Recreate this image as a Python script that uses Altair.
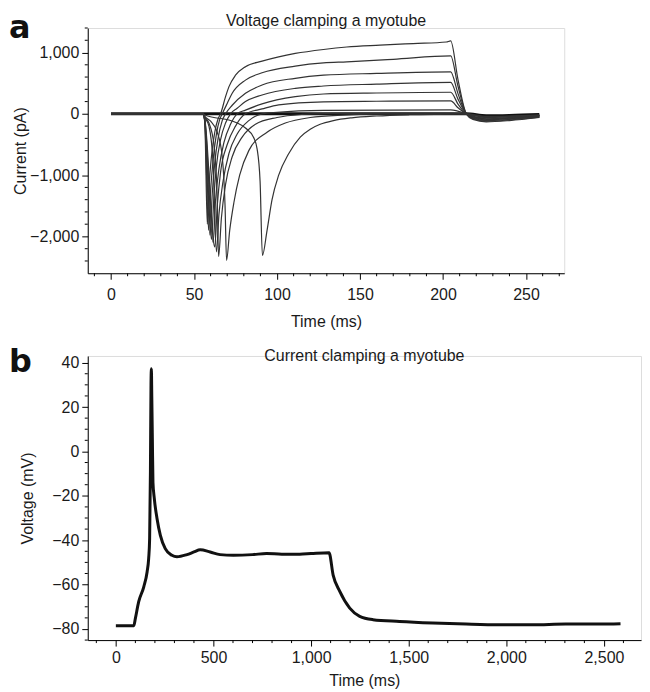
import altair as alt
import pandas as pd

# ---------------- Panel a: voltage clamp current traces (time ms, current pA) -------------
A_T1 = [0, 55.5, 56.5, 58.0, 59.0, 60.5, 62.5, 64.5, 66, 69, 71, 75, 81, 91, 101, 111, 128, 142, 162, 182, 202, 204.6, 209, 214, 218, 226, 240, 258]
A_I1 = [0, 0, -150, -1800, -1200, -700, -300, -80, 0, 280, 440, 630, 770, 860, 930, 985, 1050, 1090, 1120, 1146, 1172, 1190, 560, 0, -90, -130, -110, -60]

A_T2 = [0, 55.5, 56.5, 58.8, 60, 61.5, 63.5, 65.5, 67, 70, 73, 81, 91, 111, 128, 142, 170, 204.6, 209, 214, 218, 226, 240, 258]
A_I2 = [0, 0, -130, -1900, -1250, -750, -330, -90, 0, 170, 335, 550, 670, 778, 830, 848, 890, 945, 450, 0, -80, -120, -100, -55]

A_T3 = [0, 55.5, 56.5, 59.6, 61, 62.5, 64.5, 67, 69, 73, 81, 91, 111, 128, 160, 204.6, 209, 214, 218, 226, 240, 258]
A_I3 = [0, 0, -120, -1980, -1300, -800, -400, -110, 0, 140, 335, 470, 580, 630, 660, 686, 330, 0, -70, -110, -90, -50]

A_T4 = [0, 55.5, 56.5, 60.5, 62, 63.5, 66, 69, 72, 76, 81, 91, 111, 128, 160, 204.6, 209, 214, 218, 226, 240, 258]
A_I4 = [0, 0, -110, -2050, -1350, -850, -420, -150, 0, 90, 200, 308, 416, 454, 485, 514, 240, 0, -60, -100, -80, -45]

A_T5 = [0, 55.5, 56.5, 61.5, 63, 65, 68, 72, 76, 81, 91, 111, 128, 160, 204.6, 209, 214, 218, 226, 240, 258]
A_I5 = [0, 0, -100, -2100, -1400, -900, -470, -170, 0, 60, 162, 280, 324, 340, 352, 160, 0, -50, -90, -75, -40]

A_T6 = [0, 55.5, 56.5, 62.5, 64, 66, 70, 75, 81, 91, 101, 128, 160, 204.6, 209, 214, 218, 226, 240, 258]
A_I6 = [0, 0, -90, -2170, -1500, -950, -500, -200, 0, 80, 146, 195, 205, 211, 100, 0, -45, -80, -65, -35]

A_T7 = [0, 55.5, 56.5, 59, 61.5, 63.5, 65, 67.5, 71, 76, 83, 91, 100, 128, 204.6, 214, 218, 226, 240, 258]
A_I7 = [0, 0, -60, -200, -800, -2250, -1650, -1100, -650, -330, -110, 0, 25, 55, 65, 0, -40, -70, -60, -30]

A_T8 = [0, 55.5, 56.5, 59, 62, 64, 64.8, 66.5, 69, 73, 79, 87, 100, 115, 130, 204.6, 214, 226, 240, 258]
A_I8 = [0, 0, -50, -150, -500, -1400, -2330, -1700, -1150, -700, -380, -170, -60, -10, 5, 10, 0, -60, -50, -25]

A_T9 = [0, 55.5, 56.5, 60, 64, 67, 68.7, 69.6, 71.5, 74, 77.5, 83, 94, 105, 120, 140, 160, 204.6, 214, 226, 240, 258]
A_I9 = [0, 0, -40, -120, -300, -700, -1500, -2390, -1900, -1450, -1000, -600, -300, -150, -60, -20, -5, 0, -5, -50, -40, -20]

A_T10 = [0, 55.5, 56.5, 62, 71, 76, 81, 86, 88, 89.8, 91.2, 94, 97, 101, 107, 114, 120, 126, 134, 145, 160, 180, 204.6, 214, 226, 240, 258]
A_I10 = [0, 0, -20, -60, -100, -150, -230, -390, -570, -1100, -2310, -1900, -1400, -1000, -650, -380, -250, -170, -110, -65, -35, -15, -5, 0, -40, -35, -20]

# sub-threshold traces overlapping at zero
A_TB = [0, 55.5, 100, 150, 204.6, 214, 226, 240, 258]
A_IB = [0, 0, 0, 0, 0, 0, -30, -25, -10]

A_XTICKS = [0, 50, 100, 150, 200, 250]
A_XMINOR = [-10, 10, 20, 30, 40, 60, 70, 80, 90, 110, 120, 130, 140, 160, 170, 180, 190, 210, 220, 230, 240, 260, 270]
A_YTICKS = [-2000, -1000, 0, 1000]
A_YMINOR = [-2400, -2200, -1800, -1600, -1400, -1200, -800, -600, -400, -200, 200, 400, 600, 800, 1200, 1400]

# ---------------- Panel b: current clamp voltage trace (time ms, voltage mV) -------------
B_T = [0, 92, 100, 117, 143, 160, 168, 173, 177, 180, 182, 184, 187, 190, 197, 211, 228, 253, 287, 313, 364, 400,
       432, 483, 534, 602, 700, 772, 850, 942, 1000, 1092, 1113, 1147, 1198, 1249, 1317, 1453, 1623, 1794, 1964,
       2134, 2304, 2474, 2585]
B_V = [-78.5, -78.5, -75.2, -67.7, -61, -54.3, -48.3, -39.3, -9.4, 30, 37.3, 25, 5.6, -13.9, -21.3, -30.3, -37.8,
       -43.8, -46.8, -47.5, -46.5, -45.3, -44.3, -45.3, -46.5, -46.8, -46.5, -46, -46.3, -46.3, -46, -45.6, -55.7,
       -63.1, -70.6, -74.3, -75.8, -76.6, -77.3, -77.8, -78.1, -78.1, -77.8, -77.8, -77.6]

B_XTICKS = [0, 500, 1000, 1500, 2000, 2500]
B_XMINOR = [-100, 100, 200, 300, 400, 600, 700, 800, 900, 1100, 1200, 1300, 1400, 1600, 1700, 1800, 1900,
            2100, 2200, 2300, 2400, 2600]
B_YTICKS = [-80, -60, -40, -20, 0, 20, 40]
B_YMINOR = [-85, -75, -70, -65, -55, -50, -45, -35, -30, -25, -15, -10, -5, 5, 10, 15, 25, 30, 35]

FONT = "Liberation Sans"

# ---------------- build tables ----------------
traces = [(A_T1, A_I1), (A_T2, A_I2), (A_T3, A_I3), (A_T4, A_I4), (A_T5, A_I5),
          (A_T6, A_I6), (A_T7, A_I7), (A_T8, A_I8), (A_T9, A_I9), (A_T10, A_I10)]
rows = []
for k, (ts, vs) in enumerate(traces):
    for j, (t, v) in enumerate(zip(ts, vs)):
        rows.append({"trace": k + 1, "idx": j, "t": t, "i": v})
df_a = pd.DataFrame(rows)
df_base = pd.DataFrame({"t": A_TB, "i": A_IB, "idx": list(range(len(A_TB)))})
df_b = pd.DataFrame({"t": B_T, "v": B_V, "idx": list(range(len(B_T)))})

WA, HA = 478, 246
WB, HB = 555, 285

xa_scale = alt.Scale(domain=[-14, 273], nice=False, zero=False)
ya_scale = alt.Scale(domain=[-2600, 1400], nice=False, zero=False)
xb_scale = alt.Scale(domain=[-144, 2690], nice=False, zero=False)
yb_scale = alt.Scale(domain=[-85, 43], nice=False, zero=False)

axis_common = dict(domainColor="black", domainWidth=1, tickColor="black", tickWidth=1, tickSize=6,
                   labelFont=FONT, labelFontSize=16, labelColor="#1a1a1a", titleFont=FONT,
                   titleFontSize=16, titleFontWeight="normal", titleColor="#1a1a1a", grid=False,
                   format=",.0f")

xa_axis = alt.Axis(values=A_XTICKS, title="Time (ms)", labelPadding=7, titleY=40, **axis_common)
ya_axis = alt.Axis(values=A_YTICKS, title="Current (pA)", labelPadding=3, titleX=-59, **axis_common)
xb_axis = alt.Axis(values=B_XTICKS, title="Time (ms)", labelPadding=3, titleY=33, **axis_common)
yb_axis = alt.Axis(values=B_YTICKS, title="Voltage (mV)", labelPadding=3, titleX=-52, **axis_common)

one = pd.DataFrame({"k": [0]})

# ---- panel a layers ----
lines_a = alt.Chart(df_a).mark_line(interpolate="monotone", strokeWidth=1.2, color="#333333").encode(
    x=alt.X("t:Q", scale=xa_scale, axis=xa_axis),
    y=alt.Y("i:Q", scale=ya_scale, axis=ya_axis),
    detail="trace:N",
    order="idx:Q",
)
base_a = alt.Chart(df_base).mark_line(interpolate="monotone", strokeWidth=3, color="#111111").encode(
    x=alt.X("t:Q", scale=xa_scale), y=alt.Y("i:Q", scale=ya_scale), order="idx:Q"
)
xminor_a = alt.Chart(pd.DataFrame({"m": A_XMINOR})).mark_rule(color="black", strokeWidth=1).encode(
    x=alt.X("m:Q", scale=xa_scale), y=alt.value(HA), y2=alt.value(HA + 3)
)
yminor_a = alt.Chart(pd.DataFrame({"m": A_YMINOR})).mark_rule(color="black", strokeWidth=1).encode(
    y=alt.Y("m:Q", scale=ya_scale), x=alt.value(-3), x2=alt.value(0)
)
title_a = alt.Chart(one).mark_text(font=FONT, fontSize=16, color="#1a1a1a", align="center",
                                   baseline="alphabetic").encode(
    x=alt.value(WA / 2), y=alt.value(-2), text=alt.value("Voltage clamping a myotube"))
label_a = alt.Chart(one).mark_text(font="DejaVu Sans", fontSize=32, fontWeight="bold", color="#111111",
                                   align="left", baseline="alphabetic").encode(
    x=alt.value(-79), y=alt.value(10), text=alt.value("a"))

panel_a = alt.layer(base_a, lines_a, xminor_a, yminor_a, title_a, label_a).properties(width=WA, height=HA)

# ---- panel b layers ----
line_b = alt.Chart(df_b).mark_line(interpolate="monotone", strokeWidth=3, color="#111111").encode(
    x=alt.X("t:Q", scale=xb_scale, axis=xb_axis),
    y=alt.Y("v:Q", scale=yb_scale, axis=yb_axis),
    order="idx:Q",
)
xminor_b = alt.Chart(pd.DataFrame({"m": B_XMINOR})).mark_rule(color="black", strokeWidth=1).encode(
    x=alt.X("m:Q", scale=xb_scale), y=alt.value(HB), y2=alt.value(HB + 3)
)
yminor_b = alt.Chart(pd.DataFrame({"m": B_YMINOR})).mark_rule(color="black", strokeWidth=1).encode(
    y=alt.Y("m:Q", scale=yb_scale), x=alt.value(-3), x2=alt.value(0)
)
title_b = alt.Chart(one).mark_text(font=FONT, fontSize=16, color="#1a1a1a", align="center",
                                   baseline="alphabetic").encode(
    x=alt.value(WB / 2), y=alt.value(5), text=alt.value("Current clamping a myotube"))
label_b = alt.Chart(one).mark_text(font="DejaVu Sans", fontSize=32, fontWeight="bold", color="#111111",
                                   align="left", baseline="alphabetic").encode(
    x=alt.value(-79), y=alt.value(16), text=alt.value("b"))

panel_b = alt.layer(line_b, xminor_b, yminor_b, title_b, label_b).properties(width=WB, height=HB)

chart = alt.vconcat(panel_a, panel_b, spacing=83, bounds="flush").properties(
    padding={"top": 2, "left": 0, "right": 0, "bottom": 0}
).configure_view(stroke=None).configure(background="white")

chart.save("out.html", embed_options={"renderer": "svg", "actions": False})
